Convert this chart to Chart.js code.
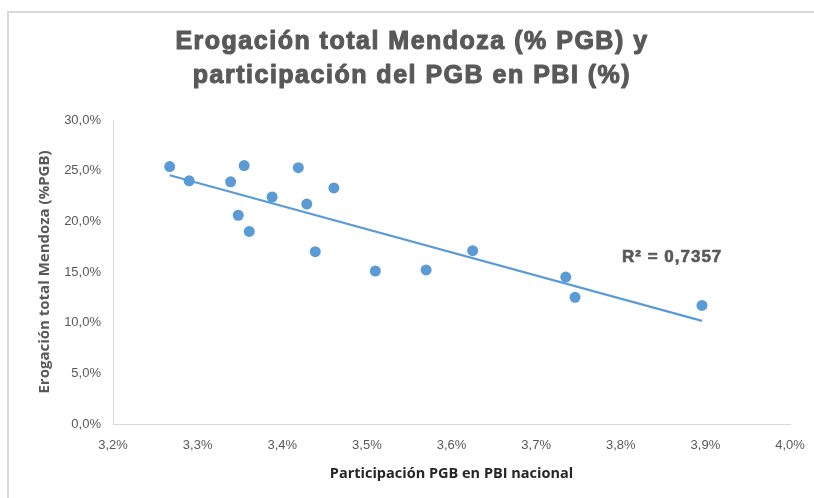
<!DOCTYPE html>
<html>
<head>
<meta charset="utf-8">
<script src="https://cdn.jsdelivr.net/npm/chart.js@4"></script>
<style>
  html, body { margin: 0; padding: 0; background: #ffffff; overflow: hidden; }
  #wrap { position: relative; width: 814px; height: 498px; }
  #frame { position: absolute; left: 7px; top: 11px; width: 900px; height: 600px;
           border-left: 2px solid #d9d9d9; border-top: 2px solid #d9d9d9; box-sizing: border-box; }
  canvas { position: absolute; left: 0; top: 0; }
</style>
</head>
<body>
<div id="wrap">
  <div id="frame"></div>
  <canvas id="c" width="814" height="498"></canvas>
</div>
<script>
// ---- data ----
const titleLines = ["Erogación total Mendoza (% PGB) y", "participación del PGB en PBI (%)"];
const xAxisTitle = "Participación PGB en PBI nacional";
const yAxisTitle = "Erogación total Mendoza (%PGB)";
const r2Label = "R² = 0,7357";
// participación PGB en PBI nacional (%)
const xValues = [3.267, 3.290, 3.339, 3.355, 3.348, 3.361, 3.388, 3.419, 3.429, 3.439, 3.461, 3.510, 3.570, 3.625, 3.735, 3.746, 3.896];
// erogación total Mendoza (% PGB)
const yValues = [25.4, 24.0, 23.9, 25.5, 20.6, 19.0, 22.4, 25.3, 21.7, 17.0, 23.3, 15.1, 15.2, 17.1, 14.5, 12.5, 11.7];
const xTicks = { min: 3.2, max: 4.0, step: 0.1 };
const yTicks = { min: 0, max: 30, step: 5 };

// ---- linear trend (least squares) from the data ----
const n = xValues.length;
const mx = xValues.reduce((a, b) => a + b, 0) / n;
const my = yValues.reduce((a, b) => a + b, 0) / n;
let sxy = 0, sxx = 0;
for (let i = 0; i < n; i++) { sxy += (xValues[i] - mx) * (yValues[i] - my); sxx += (xValues[i] - mx) ** 2; }
const slope = sxy / sxx, intercept = my - slope * mx;
const xmin = Math.min(...xValues), xmax = Math.max(...xValues);
const trend = [{ x: xmin, y: intercept + slope * xmin }, { x: xmax, y: intercept + slope * xmax }];

const fmt = v => Number(v).toFixed(1).replace('.', ',') + '%';
const textColor = '#595959';

const decor = {
  id: 'decor',
  afterDraw(chart) {
    const ctx = chart.ctx;
    ctx.save();
    // main title (heavy)
    ctx.fillStyle = textColor;
    ctx.strokeStyle = textColor;
    ctx.lineWidth = 1.1;
    ctx.lineJoin = 'round';
    ctx.textAlign = 'center';
    ctx.textBaseline = 'middle';
    ctx.font = 'bold 25px "Liberation Sans", Arial, sans-serif';
    try { ctx.letterSpacing = '1.5px'; } catch (e) {}
    ctx.fillText(titleLines[0], 412, 42);
    ctx.strokeText(titleLines[0], 412, 42);
    ctx.fillText(titleLines[1], 412, 76);
    ctx.strokeText(titleLines[1], 412, 76);
    // R² label
    ctx.textAlign = 'left';
    ctx.font = 'bold 17px "Liberation Sans", Arial, sans-serif';
    ctx.lineWidth = 0.6;
    try { ctx.letterSpacing = '1px'; } catch (e) {}
    ctx.fillText(r2Label, 622, 257);
    ctx.strokeText(r2Label, 622, 257);
    try { ctx.letterSpacing = '0px'; } catch (e) {}
    ctx.restore();
  }
};

new Chart(document.getElementById('c'), {
  type: 'scatter',
  data: {
    datasets: [
      {
        label: 'datos',
        data: xValues.map((x, i) => ({ x, y: yValues[i] })),
        backgroundColor: '#5b9bd5',
        borderColor: '#5b9bd5',
        pointRadius: 5.5,
        pointHoverRadius: 5.5,
        borderWidth: 0,
        order: 1
      },
      {
        type: 'line',
        label: 'tendencia',
        data: trend,
        borderColor: '#5b9bd5',
        borderWidth: 2.2,
        pointRadius: 0,
        fill: false,
        order: 2
      }
    ]
  },
  plugins: [decor],
  options: {
    responsive: false,
    animation: false,
    devicePixelRatio: 1,
    layout: { padding: { top: 120, right: 24, left: 0, bottom: 0 } },
    plugins: { legend: { display: false }, title: { display: false }, tooltip: { enabled: false } },
    scales: {
      x: {
        type: 'linear',
        min: xTicks.min, max: xTicks.max,
        afterFit(s) { s.height = 74; s.paddingRight = 0; s.paddingLeft = 0; },
        border: { color: '#d9d9d9', width: 1 },
        grid: { display: false, drawTicks: false },
        ticks: { stepSize: xTicks.step, padding: 14, color: textColor,
                 font: { family: '"Liberation Sans", Arial, sans-serif', size: 13 },
                 callback: v => fmt(v) },
        title: { display: true, text: xAxisTitle, color: '#262626',
                 font: { family: '"Open Sans", sans-serif', size: 14.5, weight: 'bold' },
                 padding: { top: 0, bottom: 15 } }
      },
      y: {
        min: yTicks.min, max: yTicks.max,
        afterFit(s) { s.width = 113; },
        border: { color: '#d9d9d9', width: 1 },
        grid: { display: false, drawTicks: false },
        ticks: { stepSize: yTicks.step, padding: 12, color: textColor,
                 font: { family: '"Liberation Sans", Arial, sans-serif', size: 13 },
                 callback: v => fmt(v) },
        title: { display: true, text: yAxisTitle, color: textColor,
                 font: { family: '"Open Sans", sans-serif', size: 15, weight: 'bold' },
                 padding: { top: 36, bottom: 0 } }
      }
    }
  }
});
</script>
</body>
</html>
